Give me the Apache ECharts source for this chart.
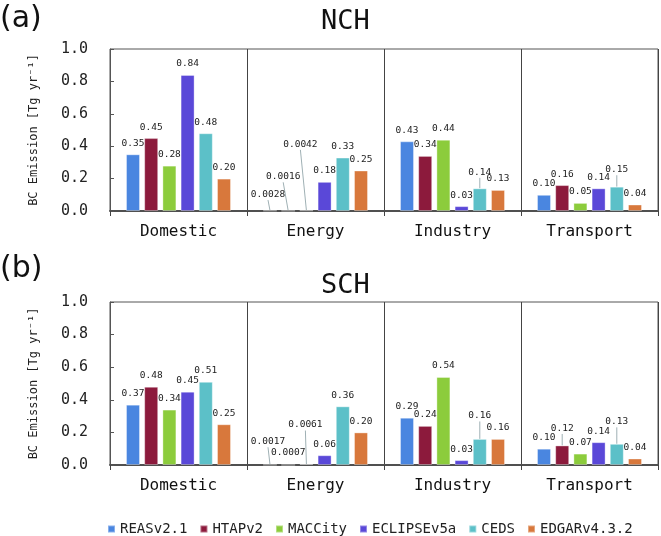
<!DOCTYPE html>
<html>
<head>
<meta charset="utf-8">
<script src="https://cdn.jsdelivr.net/npm/echarts@6/dist/echarts.min.js"></script>
<style>
html,body{margin:0;padding:0;background:#fff;}
#chart{width:661px;height:536px;}
</style>
</head>
<body>
<div id="chart"></div>
<script>
// ---- data ----
const categories = ['Domestic', 'Energy', 'Industry', 'Transport'];
const seriesNames = ['REASv2.1', 'HTAPv2', 'MACCity', 'ECLIPSEv5a', 'CEDS', 'EDGARv4.3.2'];

// NCH panel (a)
const nchREAS    = [0.35, 0.0028, 0.43, 0.10];
const nchHTAP    = [0.45, 0.0016, 0.34, 0.16];
const nchMACC    = [0.28, 0.0042, 0.44, 0.05];
const nchECLIPSE = [0.84, 0.18, 0.03, 0.14];
const nchCEDS    = [0.48, 0.33, 0.14, 0.15];
const nchEDGAR   = [0.20, 0.25, 0.13, 0.04];

// SCH panel (b)
const schREAS    = [0.37, 0.0017, 0.29, 0.10];
const schHTAP    = [0.48, 0.0007, 0.24, 0.12];
const schMACC    = [0.34, 0.0061, 0.54, 0.07];
const schECLIPSE = [0.45, 0.06, 0.03, 0.14];
const schCEDS    = [0.51, 0.36, 0.16, 0.13];
const schEDGAR   = [0.25, 0.20, 0.16, 0.04];

const yMin = 0, yMax = 1.0, yStep = 0.2;

// ---- styling ----
const colors = ['#4a86e0', '#8c1a3c', '#8ccc3c', '#5a48d8', '#5cc0c8', '#d8783c'];
const MONO = '"DejaVu Sans Mono", "Liberation Mono", monospace';
const LABEL_SIZE = 9.5, LABEL_DIST = 6;

// label nudges: [seriesIdx, catIdx, dx, dy, showLine]
const nchShift = [[0,1,-2,-5,1],[1,1,-5,-23,1],[2,1,-6,-55,1],[4,2,0,-5,1],[4,3,0,-6,1]];
const schShift = [[0,1,-2,-12,1],[1,1,0,-1,0],[2,1,-1,-28,1],[4,2,0,-12,1],[1,3,0,-6,1],[4,3,0,-11,1]];

const nchData = [nchREAS, nchHTAP, nchMACC, nchECLIPSE, nchCEDS, nchEDGAR];
const schData = [schREAS, schHTAP, schMACC, schECLIPSE, schCEDS, schEDGAR];

function fmt(v) { return v < 0.01 ? v.toFixed(4) : v.toFixed(2); }

function findShift(list, s, c) {
  for (const r of list) if (r[0] === s && r[1] === c) return r;
  return null;
}

function makeSeries(dataSets, shifts, gridIdx) {
  return dataSets.map((arr, s) => ({
    name: seriesNames[s],
    type: 'bar',
    xAxisIndex: gridIdx,
    yAxisIndex: gridIdx,
    barWidth: 14,
    barGap: '30%',
    itemStyle: { color: colors[s], borderColor: 'rgba(255,255,255,0.35)', borderWidth: 1 },
    data: arr,
    label: {
      show: true,
      position: 'top',
      distance: LABEL_DIST,
      fontFamily: MONO,
      fontSize: LABEL_SIZE,
      color: '#222',
      formatter: p => fmt(p.value)
    },
    labelLayout: function (params) {
      const sh = findShift(shifts, s, params.dataIndex);
      if (sh) return { dx: sh[2], dy: sh[3] };
      return {};
    }
  }));
}

function xAxisCfg(gridIdx) {
  return {
    type: 'category',
    gridIndex: gridIdx,
    data: categories,
    axisLine: { show: true, lineStyle: { color: '#505050', width: 2 } },
    axisTick: { show: true, interval: 0, length: 5, lineStyle: { color: '#444', width: 1 } },
    splitLine: { show: true, interval: 0, lineStyle: { color: '#444', width: 1 } },
    axisLabel: { interval: 0, margin: 13, fontFamily: MONO, fontSize: 16, color: '#111' }
  };
}

function yAxisCfg(gridIdx) {
  return {
    type: 'value',
    gridIndex: gridIdx,
    min: yMin, max: yMax, interval: yStep,
    name: 'BC Emission [Tg yr⁻¹]',
    nameLocation: 'middle',
    nameGap: 70,
    nameTextStyle: { fontFamily: MONO, fontSize: 12, color: '#222' },
    axisLine: { show: true, lineStyle: { color: '#555', width: 1 } },
    axisTick: { show: true, inside: true, length: 4, lineStyle: { color: '#555' } },
    splitLine: { show: false },
    axisLabel: { margin: 22, fontFamily: MONO, fontSize: 15, color: '#222', formatter: v => v.toFixed(1) }
  };
}

const titles = [
  { type: 'text', left: 0, top: 4, style: { text: '(a)', font: '30px "DejaVu Sans"', fill: '#111' } },
  { type: 'text', left: 0, top: 254, style: { text: '(b)', font: '30px "DejaVu Sans"', fill: '#111' } },
  { type: 'text', left: 321, top: 8, style: { text: 'NCH', font: '27px "DejaVu Sans Mono"', fill: '#111' } },
  { type: 'text', left: 321, top: 272, style: { text: 'SCH', font: '27px "DejaVu Sans Mono"', fill: '#111' } }
];

const chart = echarts.init(document.getElementById('chart'), null, { renderer: 'canvas' });
chart.setOption({
  animation: false,
  color: colors,
  graphic: titles,
  legend: {
    data: seriesNames,
    left: 102,
    top: 517,
    icon: 'rect',
    itemWidth: 7,
    itemHeight: 7,
    itemGap: 12,
    textStyle: { fontFamily: MONO, fontSize: 14, color: '#222' }
  },
  grid: [
    { left: 110, right: 3, top: 49, height: 162, show: true, borderColor: '#555', borderWidth: 1 },
    { left: 110, right: 3, top: 302, height: 163, show: true, borderColor: '#555', borderWidth: 1 }
  ],
  xAxis: [xAxisCfg(0), xAxisCfg(1)],
  yAxis: [yAxisCfg(0), yAxisCfg(1)],
  series: makeSeries(nchData, nchShift, 0).concat(makeSeries(schData, schShift, 1))
});

// leader lines from shifted labels to their bars, using the library's bar layout
const leaders = [];
function addLeaders(shifts, offset) {
  shifts.forEach(sh => {
    if (!sh[4]) return;
    const data = chart.getModel().getSeriesByIndex(offset + sh[0]).getData();
    const lay = data.getItemLayout(sh[1]);
    if (!lay) return;
    const barCx = lay.x + lay.width / 2;
    const barTop = Math.min(lay.y, lay.y + lay.height);
    const labelCy = barTop - LABEL_DIST - LABEL_SIZE * 0.6 + sh[3];
    const labelBottom = labelCy + LABEL_SIZE * 0.55;
    leaders.push({
      type: 'line',
      silent: true,
      shape: { x1: barCx + sh[2], y1: labelBottom + 1, x2: barCx, y2: barTop },
      style: { stroke: '#9fb0b4', lineWidth: 1 }
    });
  });
}
addLeaders(nchShift, 0);
addLeaders(schShift, 6);
chart.setOption({ graphic: titles.concat(leaders) });
</script>
</body>
</html>
